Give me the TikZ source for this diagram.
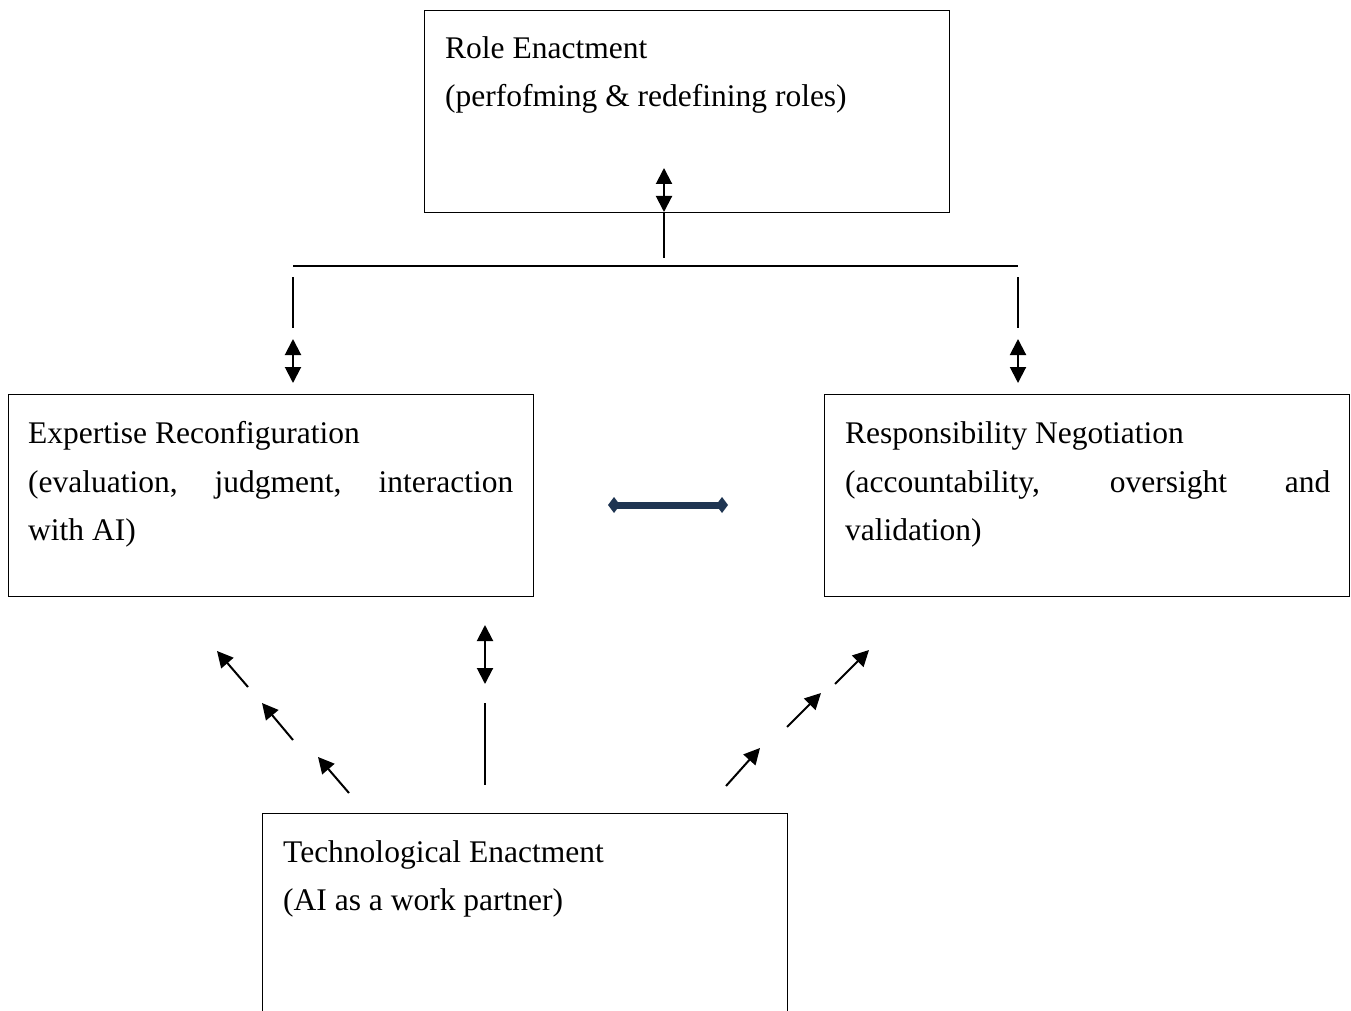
\documentclass[tikz,border=0pt]{standalone}
\usepackage{fontspec}
\setmainfont{Liberation Serif}
\usetikzlibrary{arrows.meta}
\definecolor{navyarrow}{HTML}{1F3552}
\tikzset{
  box/.style={draw=black, line width=1.2pt, rectangle, inner sep=0pt, anchor=north west},
  txt/.style={anchor=base west, inner sep=0pt, font=\fontsize{31.5}{48}\selectfont},
  conn/.style={draw=black, line width=2pt},
  headtip/.tip={Triangle[length=16pt 0 0,width=16pt 0 0]},
  dbl/.style={conn, {headtip}-{headtip}},
  sgl/.style={conn, -{headtip}},
  thick2way/.style={draw=navyarrow, line width=7pt, {Kite[length=12pt 0 0,width=16pt 0 0,inset=6pt 0 0]}-{Kite[length=12pt 0 0,width=16pt 0 0,inset=6pt 0 0]}}
}
\begin{document}
\begin{tikzpicture}[x=1pt,y=-1pt]
\clip (0,0) rectangle (1351,1011);
\fill[white] (0,0) rectangle (1351,1011);
% boxes
\node[box, minimum width=525pt, minimum height=202pt] (role) at (424,10) {};
\node[box, minimum width=525pt, minimum height=202pt] (exp) at (8,394) {};
\node[box, minimum width=525pt, minimum height=202pt] (resp) at (824,394) {};
\node[box, minimum width=525pt, minimum height=230pt] (tech) at (262,813) {};
% texts
\node[txt] (r1) at (445,59) {Role Enactment};
\node[txt] (r2) at (445,107) {(perfofming \& redefining roles)};
\node[txt] (e1) at (28,443) {Expertise Reconfiguration};
\node[txt] (e2) at (28,492) {\makebox[485pt][s]{(evaluation, judgment, interaction}};
\node[txt] (e3) at (28,540) {with AI)};
\node[txt] (p1) at (845,443) {Responsibility Negotiation};
\node[txt] (p2) at (845,492) {\makebox[485pt][s]{(accountability, oversight and}};
\node[txt] (p3) at (845,540) {validation)};
\node[txt] (t1) at (283,862) {Technological Enactment};
\node[txt] (t2) at (283,910) {(AI as a work partner)};
% coordinates
\coordinate (ta) at (664,168);
\coordinate (tb) at (664,212);
\coordinate (tc) at (664,258);
\coordinate (hl) at (293,266);
\coordinate (hr) at (1018,266);
\coordinate (la) at (293,277);
\coordinate (lb) at (293,328);
\coordinate (lc) at (293,339);
\coordinate (ld) at (293,383);
\coordinate (ra) at (1018,277);
\coordinate (rb) at (1018,328);
\coordinate (rc) at (1018,339);
\coordinate (rd) at (1018,383);
\coordinate (ma) at (608,505);
\coordinate (mb) at (728,505);
\coordinate (ba) at (485,625);
\coordinate (bb) at (485,684);
\coordinate (bc) at (485,703);
\coordinate (bd) at (485,785);
\coordinate (l1s) at (248,687); \coordinate (l1e) at (217,651);
\coordinate (l2s) at (293,740); \coordinate (l2e) at (262,703);
\coordinate (l3s) at (349,793); \coordinate (l3e) at (318,757);
\coordinate (r1s) at (726,786); \coordinate (r1e) at (760,748);
\coordinate (r2s) at (787,727); \coordinate (r2e) at (821,693);
\coordinate (r3s) at (835,684); \coordinate (r3e) at (869,650);
% connectors
\draw[dbl] (ta) -- (tb);
\draw[conn] (tb) -- (tc);
\draw[conn] (hl) -- (hr);
\draw[conn] (la) -- (lb);
\draw[dbl] (lc) -- (ld);
\draw[conn] (ra) -- (rb);
\draw[dbl] (rc) -- (rd);
\draw[thick2way] (ma) -- (mb);
\draw[dbl] (ba) -- (bb);
\draw[conn] (bc) -- (bd);
\draw[sgl] (l1s) -- (l1e);
\draw[sgl] (l2s) -- (l2e);
\draw[sgl] (l3s) -- (l3e);
\draw[sgl] (r1s) -- (r1e);
\draw[sgl] (r2s) -- (r2e);
\draw[sgl] (r3s) -- (r3e);
\end{tikzpicture}
\end{document}
